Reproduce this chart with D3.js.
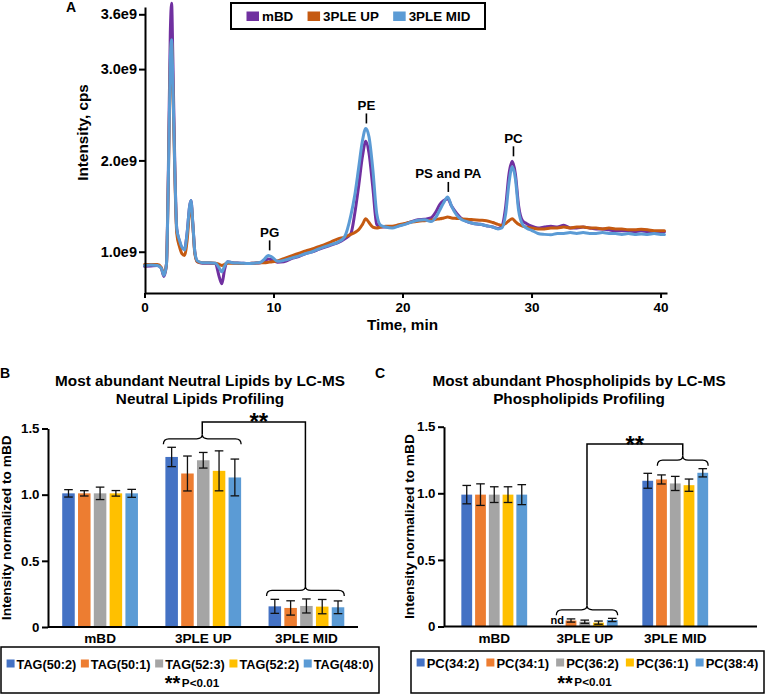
<!DOCTYPE html>
<html><head><meta charset="utf-8">
<script src="https://cdn.jsdelivr.net/npm/d3@7"></script>
<style>
html,body{margin:0;padding:0;background:#fff;}
svg{display:block;font-family:"Liberation Sans",Arial,Helvetica,sans-serif;font-weight:bold;}
</style></head><body>
<svg id="chart" width="766" height="696"></svg>
<script>
// ---------------- Panel A : chromatogram (intensity in units of 1e9 cps) ----------------
const timeMin = [
  0, 0.5, 1.0, 1.3, 1.5, 1.7, 1.85, 2.0, 2.1, 2.2,
  2.35, 2.5, 2.7, 2.9, 3.1, 3.3, 3.5, 3.6, 3.75, 3.9,
  4.1, 4.5, 5.0, 5.5, 5.8, 6.0, 6.2, 6.45, 6.8, 7.5,
  8.0, 8.5, 9.0, 9.3, 9.6, 9.9, 10.3, 10.8, 11.5, 12,
  12.5, 13, 13.5, 14, 14.5, 15, 15.5, 16.0, 16.3, 16.6,
  16.9, 17.15, 17.4, 17.7, 18.0, 18.3, 18.7, 19.2, 19.7, 20.2,
  20.7, 21.2, 21.7, 22.2, 22.6, 22.9, 23.2, 23.5, 23.8, 24.2,
  24.6, 25.0, 25.5, 26.0, 26.5, 27.0, 27.4, 27.7, 28.0, 28.25,
  28.5, 28.75, 29.0, 29.3, 29.6, 30.0, 30.5, 31.0, 31.5, 32.0,
  32.5, 33.0, 33.5, 34, 34.5, 35, 35.5, 36, 36.5, 37,
  37.5, 38, 38.5, 39, 39.5, 40, 40.3];
const intensityMBD = [
  0.84, 0.845, 0.85, 0.82, 0.73, 0.86, 1.9, 3.4, 3.72, 3.1,
  1.95, 1.25, 1.12, 1.04, 1.03, 1.2, 1.5, 1.56, 1.3, 1.0,
  0.89, 0.875, 0.875, 0.87, 0.72, 0.65, 0.8, 0.89, 0.88, 0.875,
  0.87, 0.875, 0.88, 0.90, 0.92, 0.91, 0.885, 0.89, 0.93, 0.95,
  0.98, 1.00, 1.025, 1.05, 1.075, 1.10, 1.14, 1.20, 1.42, 1.72,
  2.05, 2.21, 2.08, 1.70, 1.30, 1.27, 1.27, 1.27, 1.285, 1.305,
  1.33, 1.35, 1.355, 1.37, 1.44, 1.52, 1.56, 1.58, 1.50, 1.42,
  1.36, 1.33, 1.31, 1.30, 1.285, 1.27, 1.255, 1.28, 1.50, 1.85,
  1.99, 1.85, 1.50, 1.34, 1.31, 1.28, 1.26, 1.27, 1.28, 1.27,
  1.29, 1.26, 1.26, 1.27, 1.26, 1.25, 1.25, 1.24, 1.23, 1.23,
  1.23, 1.22, 1.23, 1.22, 1.22, 1.22, 1.22];
const intensityUP = [
  0.86, 0.86, 0.86, 0.83, 0.75, 0.86, 1.8, 3.05, 3.3, 2.8,
  1.85, 1.2, 1.06, 0.98, 0.96, 1.12, 1.45, 1.53, 1.28, 0.98,
  0.89, 0.88, 0.88, 0.875, 0.86, 0.85, 0.86, 0.875, 0.875, 0.87,
  0.87, 0.875, 0.88, 0.88, 0.885, 0.89, 0.90, 0.925, 0.96, 0.985,
  1.01, 1.03, 1.055, 1.08, 1.11, 1.14, 1.16, 1.19, 1.21, 1.24,
  1.30, 1.36, 1.32, 1.27, 1.26, 1.27, 1.28, 1.28, 1.295, 1.31,
  1.325, 1.335, 1.34, 1.345, 1.355, 1.36, 1.37, 1.38, 1.37, 1.365,
  1.36, 1.355, 1.35, 1.345, 1.34, 1.32, 1.30, 1.29, 1.31, 1.34,
  1.36, 1.33, 1.30, 1.28, 1.27, 1.26, 1.25, 1.25, 1.26, 1.26,
  1.27, 1.26, 1.27, 1.27, 1.26, 1.26, 1.25, 1.26, 1.25, 1.25,
  1.24, 1.24, 1.245, 1.24, 1.23, 1.23, 1.23];
const intensityMID = [
  0.85, 0.855, 0.85, 0.82, 0.74, 0.86, 1.8, 3.1, 3.32, 2.85,
  1.9, 1.25, 1.13, 1.05, 1.02, 1.2, 1.5, 1.56, 1.3, 1.0,
  0.9, 0.88, 0.88, 0.875, 0.82, 0.78, 0.84, 0.89, 0.88, 0.875,
  0.87, 0.875, 0.885, 0.92, 0.96, 0.94, 0.895, 0.905, 0.935, 0.955,
  0.98, 1.00, 1.03, 1.055, 1.08, 1.105, 1.16, 1.40, 1.62, 1.92,
  2.22, 2.35, 2.26, 1.90, 1.42, 1.29, 1.27, 1.26, 1.28, 1.30,
  1.325, 1.345, 1.35, 1.33, 1.38, 1.46, 1.54, 1.60, 1.50, 1.40,
  1.35, 1.33, 1.31, 1.30, 1.285, 1.27, 1.25, 1.26, 1.42, 1.75,
  1.93, 1.80, 1.45, 1.30, 1.26, 1.235, 1.20, 1.19, 1.185, 1.20,
  1.20, 1.21, 1.20, 1.21, 1.20, 1.20, 1.21, 1.20, 1.20, 1.19,
  1.20, 1.19, 1.195, 1.19, 1.20, 1.19, 1.19];
const chromSeriesNames = ["mBD", "3PLE UP", "3PLE MID"];
const chromColors = ["#7030A0", "#C55A11", "#5B9BD5"];
const chromXTicks = [0, 10, 20, 30, 40];
const chromYTicks = [1.0, 2.0, 3.0, 3.6];
const chromYTickLabels = ["1.0e9", "2.0e9", "3.0e9", "3.6e9"];
const peakLabels = ["PG", "PE", "PS and PA", "PC"];
const peakTimes = [9.7, 17.2, 23.55, 28.6];

// ---------------- Panels B and C : bar charts ----------------
const groups = ["mBD", "3PLE UP", "3PLE MID"];
const barColors = ["#4472C4", "#ED7D31", "#A5A5A5", "#FFC000", "#5B9BD5"];
const barYTicks = [0, 0.5, 1.0, 1.5];
const barYTickLabels = ["0", "0.5", "1.0", "1.5"];

const tagSpecies = ["TAG(50:2)", "TAG(50:1)", "TAG(52:3)", "TAG(52:2)", "TAG(48:0)"];
const tagMBD = [1.01, 1.01, 1.01, 1.01, 1.01];
const tagUP = [1.285, 1.16, 1.26, 1.18, 1.13];
const tagMID = [0.156, 0.144, 0.159, 0.154, 0.149];
const tagErrMBD = [0.028, 0.02, 0.047, 0.021, 0.03];
const tagErrUP = [0.073, 0.132, 0.059, 0.151, 0.139];
const tagErrMID = [0.053, 0.054, 0.053, 0.054, 0.048];

const pcSpecies = ["PC(34:2)", "PC(34:1)", "PC(36:2)", "PC(36:1)", "PC(38:4)"];
const pcMBD = [0.99, 0.99, 0.99, 0.99, 0.99];
const pcUP = [0.005, 0.045, 0.036, 0.029, 0.049];
const pcMID = [1.094, 1.104, 1.074, 1.061, 1.154];
const pcErrMBD = [0.069, 0.081, 0.059, 0.059, 0.075];
const pcErrUP = [0, 0.012, 0.012, 0.012, 0.012];
const pcErrMID = [0.056, 0.034, 0.053, 0.046, 0.031];

// ======================================================================
const svg = d3.select("#chart");

function styleAxis(g, w, fs) {
  g.selectAll(".domain").attr("stroke", "#000").attr("stroke-width", w);
  g.selectAll(".tick line").attr("stroke", "#000").attr("stroke-width", w);
  g.selectAll(".tick text").attr("fill", "#000").attr("font-size", fs)
    .attr("font-weight", "bold").attr("font-family", null);
  g.attr("font-family", null).attr("font-size", null);
}

// ---------------- Panel A ----------------
(function () {
  const xA = d3.scaleLinear().domain([0, 40.5]).range([144.5, 667]);
  const yA = d3.scaleLinear().domain([0.548, 3.68]).range([293, 7]);
  const g = svg.append("g");

  const series = [intensityMBD, intensityUP, intensityMID];
  const line = d3.line().x((d, i) => xA(timeMin[i])).y(d => yA(d)).curve(d3.curveMonotoneX);
  series.forEach((s, k) => {
    g.append("path").attr("d", line(s)).attr("fill", "none")
      .attr("stroke", chromColors[k]).attr("stroke-width", 3)
      .attr("stroke-linejoin", "round").attr("stroke-linecap", "round");
  });

  const ax = g.append("g").attr("transform", "translate(0,293)")
    .call(d3.axisBottom(xA).tickValues(chromXTicks).tickSize(5).tickSizeOuter(0).tickPadding(4));
  styleAxis(ax, 2, "13.5px");
  const ay = g.append("g").attr("transform", "translate(145,0)")
    .call(d3.axisLeft(yA).tickValues(chromYTicks).tickFormat((d, i) => chromYTickLabels[i])
      .tickSize(6).tickSizeOuter(0).tickPadding(2));
  styleAxis(ay, 2, "14.5px");

  g.append("text").attr("x", 402.5).attr("y", 330).attr("text-anchor", "middle")
    .attr("font-size", "15.3px").text("Time, min");
  g.append("text").attr("transform", "translate(88,132.5) rotate(-90)").attr("text-anchor", "middle")
    .attr("font-size", "15.3px").text("Intensity, cps");
  g.append("text").attr("x", 66).attr("y", 11.7).attr("font-size", "14px").text("A");

  // peak labels
  peakTimes.forEach((t, k) => {
    const idx = d3.minIndex(timeMin, tt => Math.abs(tt - t));
    const top = d3.min(series, s => yA(s[idx]));
    const px = xA(t);
    g.append("line").attr("x1", px).attr("x2", px).attr("y1", top - 15).attr("y2", top - 5)
      .attr("stroke", "#000").attr("stroke-width", 1.6);
    g.append("text").attr("x", px).attr("y", top - 18.5).attr("text-anchor", "middle")
      .attr("font-size", "13.3px").text(peakLabels[k]);
  });

  // legend
  const lg = g.append("g");
  lg.append("rect").attr("x", 231).attr("y", 3).attr("width", 254).attr("height", 26)
    .attr("fill", "#fff").attr("stroke", "#000").attr("stroke-width", 2);
  let cx = 246.5;
  chromSeriesNames.forEach((n, k) => {
    lg.append("rect").attr("x", cx).attr("y", 11.5).attr("width", 12.5).attr("height", 9.5).attr("fill", chromColors[k]);
    const t = lg.append("text").attr("x", cx + 15.5).attr("y", 21).attr("font-size", "13.4px").text(n);
    cx += 15.5 + t.node().getComputedTextLength() + 14.3;
  });
})();

// ---------------- Bar panels ----------------
function bracePath(x1, x2, yEnd, h) {
  const xm = (x1 + x2) / 2, ym = yEnd - h * 0.55, yt = yEnd - h, r = Math.min(h * 0.55, (x2 - x1) / 4);
  return `M${x1},${yEnd} Q${x1},${ym} ${x1 + r},${ym} L${xm - r},${ym} Q${xm},${ym} ${xm},${yt} ` +
         `Q${xm},${ym} ${xm + r},${ym} L${x2 - r},${ym} Q${x2},${ym} ${x2},${yEnd}`;
}

function barPanel(o) {
  const g = svg.append("g");
  const y = d3.scaleLinear().domain([0, 1.5]).range(o.yRange);
  const x0 = d3.scaleBand().domain(groups).range(o.bandRange);
  const x1 = d3.scaleBand().domain(o.species).range([0, x0.bandwidth()])
    .paddingInner(o.pIn).paddingOuter(o.pOut);
  const vals = [o.vMBD, o.vUP, o.vMID], errs = [o.eMBD, o.eUP, o.eMID];

  groups.forEach((grp, gi) => {
    const gg = g.append("g").attr("transform", `translate(${x0(grp)},0)`);
    gg.selectAll("rect").data(o.species).join("rect")
      .attr("x", s => x1(s)).attr("width", x1.bandwidth())
      .attr("y", (s, i) => y(vals[gi][i])).attr("height", (s, i) => y(0) - y(vals[gi][i]))
      .attr("fill", (s, i) => barColors[i]);
    o.species.forEach((s, i) => {
      const e = errs[gi][i];
      if (!e) return;
      const cxp = x1(s) + x1.bandwidth() / 2, v = vals[gi][i];
      const eb = gg.append("g").attr("stroke", "#111").attr("stroke-width", 1.3);
      eb.append("line").attr("x1", cxp).attr("x2", cxp).attr("y1", y(v + e)).attr("y2", y(v - e));
      [v + e, v - e].forEach(w => eb.append("line").attr("x1", cxp - 4.3).attr("x2", cxp + 4.3)
        .attr("y1", y(w)).attr("y2", y(w)));
    });
  });

  // axes
  const ay = g.append("g").attr("transform", `translate(${o.axisX},0)`)
    .call(d3.axisLeft(y).tickValues(barYTicks).tickFormat((d, i) => barYTickLabels[i])
      .tickSize(6).tickSizeOuter(0).tickPadding(2.5));
  styleAxis(ay, 2, "13.3px");
  const ax = g.append("g").attr("transform", `translate(0,${y(0)})`)
    .call(d3.axisBottom(x0).tickSize(0).tickSizeOuter(0).tickPadding(6.5));
  ax.select(".domain").attr("d", `M${o.axisX},0H${o.xAxisEnd}`);
  styleAxis(ax, 2, "13.6px");

  // titles
  o.title.forEach((t, i) => g.append("text").attr("x", o.titleX).attr("y", 386 + i * 18)
    .attr("text-anchor", "middle").attr("font-size", "15.3px").text(t));
  g.append("text").attr("x", o.letterX).attr("y", 378).attr("font-size", "14px").text(o.letter);
  g.append("text").attr("transform", `translate(${o.yTitleX},${(o.yRange[0] + o.yRange[1]) / 2}) rotate(-90)`)
    .attr("text-anchor", "middle").attr("font-size", "13.7px").text("Intensity normalized to mBD");

  // braces + significance bracket
  const cusps = [];
  o.braces.forEach(b => {
    const gi = groups.indexOf(b.group), gx = x0(b.group);
    const tops = o.species.map((s, i) => y(vals[gi][i] + errs[gi][i]));
    const yEnd = d3.min(tops) - 3;
    const xa = gx + x1(o.species[b.from]) + x1.bandwidth() * b.fromFrac - 2;
    const xb = gx + x1(o.species[4]) + x1.bandwidth();
    g.append("path").attr("d", bracePath(xa, xb, yEnd, 10)).attr("fill", "none")
      .attr("stroke", "#000").attr("stroke-width", 1.3);
    cusps.push([(xa + xb) / 2, yEnd - 10]);
  });
  const yl = y(o.sigLevel);
  g.append("path").attr("d", `M${cusps[0][0]},${cusps[0][1]}V${yl}H${cusps[1][0]}V${cusps[1][1]}`)
    .attr("fill", "none").attr("stroke", "#000").attr("stroke-width", 1.5);
  g.append("text").attr("x", (cusps[0][0] + cusps[1][0]) / 2 + o.sigDx).attr("y", yl + 8.5)
    .attr("text-anchor", "middle").attr("font-size", "24px").text("**");

  if (o.nd) {
    const gx = x0("3PLE UP");
    g.append("text").attr("x", gx + x1(o.species[0]) + x1.bandwidth() / 2).attr("y", y(0) - 2.5)
      .attr("text-anchor", "middle").attr("font-size", "11px").text("nd");
  }

  // legend
  const L = o.legend;
  const lg = g.append("g");
  lg.append("rect").attr("x", L.x).attr("y", L.y).attr("width", L.w).attr("height", L.h)
    .attr("fill", "#fff").attr("stroke", "#000").attr("stroke-width", 1.5);
  const items = o.species.map((s, i) => {
    const ig = lg.append("g");
    ig.append("rect").attr("x", 0).attr("y", L.rowY - 9.5).attr("width", 8).attr("height", 8).attr("fill", barColors[i]);
    const t = ig.append("text").attr("x", 10).attr("y", L.rowY).attr("font-size", L.fs).text(s);
    return { g: ig, w: 10 + t.node().getComputedTextLength() };
  });
  const total = d3.sum(items, d => d.w) + L.gap * (items.length - 1);
  let cx = L.x + L.w / 2 - total / 2;
  items.forEach(it => { it.g.attr("transform", `translate(${cx},0)`); cx += it.w + L.gap; });
  const sg = lg.append("g");
  const st = sg.append("text").attr("x", 0).attr("y", 690).attr("font-size", "20px").text("**");
  const pt = sg.append("text").attr("x", st.node().getComputedTextLength() + 1.5).attr("y", L.row2Y)
    .attr("font-size", "11.7px").text("P<0.01");
  const sw = st.node().getComputedTextLength() + 1.5 + pt.node().getComputedTextLength();
  sg.attr("transform", `translate(${L.x + L.w / 2 - sw / 2 + L.sigDx},0)`);
}

barPanel({
  species: tagSpecies, vMBD: tagMBD, vUP: tagUP, vMID: tagMID,
  eMBD: tagErrMBD, eUP: tagErrUP, eMID: tagErrMID,
  yRange: [627, 428.5], bandRange: [48.5, 358], pIn: 0.207, pOut: 0.868,
  axisX: 48, xAxisEnd: 358, titleX: 200, letter: "B", letterX: 0, yTitleX: 10.5,
  title: ["Most abundant Neutral Lipids by LC-MS", "Neutral Lipids Profiling"],
  braces: [{ group: "3PLE UP", from: 0, fromFrac: 0 }, { group: "3PLE MID", from: 0, fromFrac: 0 }],
  sigLevel: 1.55, sigDx: 5, nd: false,
  legend: { x: 1, y: 647, w: 378, h: 46, rowY: 669, row2Y: 686.5, fs: "12.7px", gap: 4.6, sigDx: 2 }
});
barPanel({
  species: pcSpecies, vMBD: pcMBD, vUP: pcUP, vMID: pcMID,
  eMBD: pcErrMBD, eUP: pcErrUP, eMID: pcErrMID,
  yRange: [626.5, 426.7], bandRange: [449, 720.5], pIn: 0.215, pOut: 0.8975,
  axisX: 444, xAxisEnd: 757, titleX: 579, letter: "C", letterX: 375, yTitleX: 413.5,
  title: ["Most abundant Phospholipids by LC-MS", "Phospholipids Profiling"],
  braces: [{ group: "3PLE UP", from: 0, fromFrac: 0.6 }, { group: "3PLE MID", from: 1, fromFrac: 0.3 }],
  sigLevel: 1.37, sigDx: 0, nd: true,
  legend: { x: 411, y: 651, w: 353, h: 42, rowY: 668, row2Y: 686, fs: "13px", gap: 7, sigDx: -3 }
});
</script>
</body></html>
